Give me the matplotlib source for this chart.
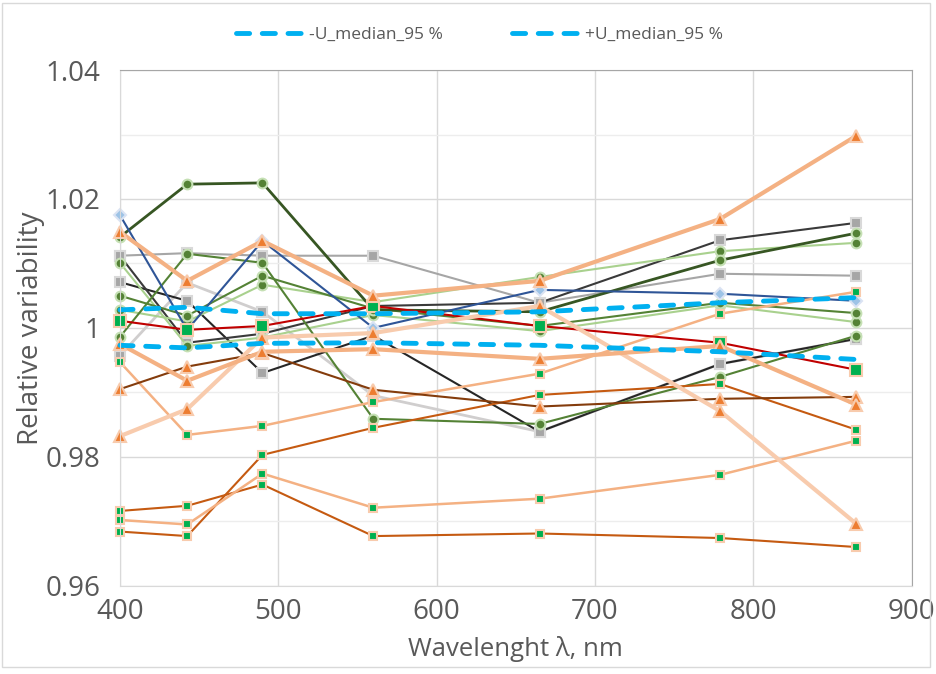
import matplotlib
matplotlib.use("Agg")
import matplotlib.pyplot as plt
from matplotlib.lines import Line2D
from matplotlib.patches import Rectangle

plt.rcParams['font.family'] = ['Open Sans', 'DejaVu Sans']

# band centres, nm
wl = [400, 442.5, 490, 560, 665, 779, 865]

# relative variability per station
blue_dia = [1.0175, 0.9997, 1.0135, 1.0000, 1.0059, 1.0053, 1.0042]
orange_top = [1.0149, 1.0073, 1.0135, 1.0050, 1.0073, 1.0169, 1.0298]
orange_mid = [0.9975, 0.9918, 0.9963, 0.9967, 0.9952, 0.9972, 0.9881]
peach_tri = [0.9832, 0.9874, 0.9985, 0.9992, 1.0034, 0.9871, 0.9696]
brown_tri = [0.9905, 0.9940, 0.9961, 0.9904, 0.9878, 0.9890, 0.9893]

red_sq = [1.0011, 0.9997, 1.0003, 1.0034, 1.0003, 0.9977, 0.9935]
lorange_sq = [0.9947, 0.9834, 0.9848, 0.9885, 0.9929, 1.0022, 1.0056]
lorange_sq2 = [0.9702, 0.9695, 0.9774, 0.9721, 0.9735, 0.9772, 0.9825]
rust_sq = [0.9716, 0.9724, 0.9757, 0.9677, 0.9681, 0.9674, 0.9660]
rust_sq2 = [0.9684, 0.9677, 0.9803, 0.9845, 0.9896, 0.9913, 0.9842]

dkgreen = [1.0141, 1.0223, 1.0225, 1.0028, 1.0025, 1.0105, 1.0147]
green1 = [0.9986, 1.0115, 1.0101, 0.9859, 0.9851, 0.9924, 0.9988]
green2 = [1.0050, 1.0019, 1.0081, 1.0030, 1.0003, 1.0039, 1.0023]
lgreen1 = [1.0101, 0.9972, 0.9985, 1.0020, 0.9995, 1.0035, 1.0009]
lgreen2 = [1.0028, 1.0010, 1.0067, 1.0040, 1.0079, 1.0119, 1.0132]

black1 = [1.0071, 1.0042, 0.9930, 0.9988, 0.9839, 0.9944, 0.9983]
black2 = [1.0112, 0.9977, 0.9991, 1.0034, 1.0039, 1.0136, 1.0163]
gray1 = [1.0112, 1.0116, 1.0112, 1.0112, 1.0039, 1.0084, 1.0081]
lgray = [0.9957, 1.0070, 1.0025, 0.9895, 0.9839, 0.9944, 0.9983]

u_minus = [0.9973, 0.9969, 0.9976, 0.9977, 0.9973, 0.9963, 0.9951]
u_plus = [1.0028, 1.0032, 1.0022, 1.0022, 1.0025, 1.0039, 1.0047]

fig = plt.figure(figsize=(9.37, 6.74), dpi=100)
ax = fig.add_axes([0.128, 0.131, 0.845, 0.765])

circ = dict(marker='o', ms=7, mfc='#548235', mec='#C5E0B4', mew=1.5, clip_on=False)
gsq = dict(marker='s', ms=7, mfc='#A6A6A6', mec='#D9D9D9', mew=1.5, clip_on=False)
tri = dict(marker='^', ms=8, mfc='#ED7D31', mec='#F8CBAD', mew=1.5, clip_on=False)
small_sq = dict(marker='s', ms=6, mfc='#00B050', mec='#F8CBAD', mew=1.5, clip_on=False)
big_sq = dict(marker='s', ms=9, mfc='#00B050', mec='#F8CBAD', mew=1.5, clip_on=False)

# gray / black lines
ax.plot(wl, lgray, color='#D0CECE', lw=2, **gsq)
ax.plot(wl, gray1, color='#A6A6A6', lw=1.5, **gsq)
ax.plot(wl, black1, color='#262626', lw=1.5, **gsq)
ax.plot(wl, black2, color='#3A3A3A', lw=1.5, **gsq)

# greens
ax.plot(wl, lgreen1, color='#A9D18E', lw=1.5, **circ)
ax.plot(wl, lgreen2, color='#A9D18E', lw=1.5, **circ)
ax.plot(wl, green2, color='#548235', lw=1.5, **circ)
ax.plot(wl, green1, color='#548235', lw=1.5, **circ)
ax.plot(wl, dkgreen, color='#375623', lw=2, **circ)

# blue
ax.plot(wl, blue_dia, color='#2F5597', lw=1.5, marker='D', ms=6,
        mfc='#9DC3E6', mec='#DAE3F3', mew=1.5, clip_on=False)

# squares
ax.plot(wl, rust_sq, color='#C55A11', lw=1.5, **small_sq)
ax.plot(wl, rust_sq2, color='#C55A11', lw=1.5, **small_sq)
ax.plot(wl, lorange_sq2, color='#F4B183', lw=1.8, **small_sq)
ax.plot(wl, lorange_sq, color='#F4B183', lw=1.8, **small_sq)
ax.plot(wl, red_sq, color='#C00000', lw=1.5, **big_sq)

# triangles
ax.plot(wl, brown_tri, color='#843C0C', lw=1.5, **tri)
ax.plot(wl, peach_tri, color='#F8CBAD', lw=3, **tri)
ax.plot(wl, orange_mid, color='#F4B183', lw=3, **tri)
ax.plot(wl, orange_top, color='#F4B183', lw=3, **tri)

# uncertainty bounds
dash = (0, (2.7, 2.6))
ax.plot(wl, u_minus, color='#00B0F0', lw=3.5, ls=dash, dash_capstyle='round', clip_on=False)
ax.plot(wl, u_plus, color='#00B0F0', lw=3.5, ls=dash, dash_capstyle='round', clip_on=False)

ax.set_xlim(400, 900)
ax.set_ylim(0.96, 1.04)
ax.set_xticks([400, 500, 600, 700, 800, 900])
ax.set_yticks([0.96, 0.98, 1.0, 1.02, 1.04])
ax.set_yticklabels(['0.96', '0.98', '1', '1.02', '1.04'])
ax.set_yticks([0.97, 0.99, 1.01, 1.03], minor=True)
ax.grid(True, which='major', color='#D9D9D9', lw=1)
ax.grid(True, which='minor', axis='y', color='#EDEDED', lw=1)
ax.set_axisbelow(True)
ax.tick_params(which='both', length=0, labelsize=20, labelcolor='#595959')
ax.tick_params(axis='y', pad=14)
ax.tick_params(axis='x', pad=9)

for s in ['left', 'bottom']:
    ax.spines[s].set_color('#D9D9D9')
for s in ['top', 'right']:
    ax.spines[s].set_color('#A6A6A6')
    ax.spines[s].set_linestyle((0, (1, 1)))

ax.set_xlabel('Wavelenght λ, nm', fontsize=18.5, color='#595959', labelpad=7)
ax.set_ylabel('Relative variability', fontsize=20, color='#595959', labelpad=0)

handles = [Line2D([], [], color='#00B0F0', lw=3.5, ls=dash, dash_capstyle='round'),
           Line2D([], [], color='#00B0F0', lw=3.5, ls=dash, dash_capstyle='round')]
fig.legend(handles, ['-U_median_95 %', '+U_median_95 %'], loc='center',
           bbox_to_anchor=(0.512, 0.948), ncol=2, frameon=False, fontsize=12.5,
           labelcolor='#595959', handlelength=3.8, columnspacing=4.0, handletextpad=0.4)

fig.patches.append(Rectangle((0.002, 0.01), 0.99, 0.985, transform=fig.transFigure,
                             fill=False, ec='#D9D9D9', lw=1))

fig.savefig('out.png', dpi=100)
